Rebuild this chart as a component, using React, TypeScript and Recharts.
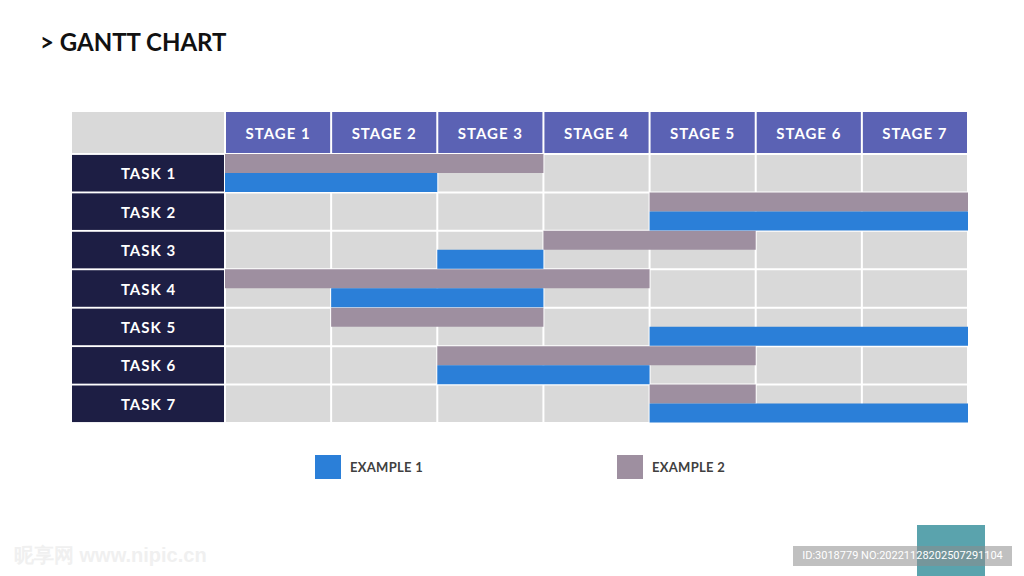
import React from 'react';
import { BarChart, Bar, XAxis, YAxis, CartesianGrid, Legend } from 'recharts';

const stages = ['STAGE 1', 'STAGE 2', 'STAGE 3', 'STAGE 4', 'STAGE 5', 'STAGE 6', 'STAGE 7'];
const tasks = ['TASK 1', 'TASK 2', 'TASK 3', 'TASK 4', 'TASK 5', 'TASK 6', 'TASK 7'];
// [start stage, end stage] per task
const example1 = [[0, 2], [4, 7], [2, 3], [1, 3], [4, 7], [2, 4], [4, 7]];
const example2 = [[0, 3], [4, 7], [3, 5], [0, 4], [1, 3], [2, 5], [4, 5]];
const stageTicks = [0.5, 1.5, 2.5, 3.5, 4.5, 5.5, 6.5];

const data = tasks.map((task, i) => ({ task, ex1: example1[i], ex2: example2[i] }));

const W = 1024;
const H = 576;
const LEGEND_H = 26;
const M = { top: 153, right: 56, bottom: 153 - LEGEND_H, left: 72 };
const LABEL_W = 153;
const PLOT_W = W - M.left - M.right - LABEL_W;
const PLOT_H = 423 - 153;
const COL_W = PLOT_W / stages.length;
const ROW_H = PLOT_H / tasks.length;
const HEAD_H = 42;

const BLUE = '#2b7fd8';
const MAUVE = '#9e8fa0';
const CELL = '#d9d9d9';
const FONT = 'Lato, "Open Sans", sans-serif';

const StageTick = (props: any) => {
  const { x, y, payload, index } = props;
  const label = stages[Math.floor(payload.value)];
  return (
    <g>
      {index === 0 && (
        <rect x={x - COL_W / 2 - LABEL_W} y={y - HEAD_H} width={LABEL_W - 1} height={HEAD_H - 1} fill={CELL} />
      )}
      <rect x={x - COL_W / 2 + 1} y={y - HEAD_H} width={COL_W - 2} height={HEAD_H - 1} fill="#5b62b4" />
      <text x={x} y={y - HEAD_H / 2} textAnchor="middle" dominantBaseline="central" fill="#fff"
        fontSize={15} fontWeight={700} letterSpacing={1} fontFamily={FONT}>
        {label}
      </text>
    </g>
  );
};

const TaskTick = (props: any) => {
  const { x, y, payload } = props;
  return (
    <g>
      <rect x={x - LABEL_W} y={y - ROW_H / 2 + 1} width={LABEL_W - 1} height={ROW_H - 2} fill="#1d1e44" />
      <text x={x - LABEL_W / 2} y={y} textAnchor="middle" dominantBaseline="central" fill="#fff"
        fontSize={15} fontWeight={700} letterSpacing={1} fontFamily={FONT}>
        {payload.value}
      </text>
    </g>
  );
};

const LegendBox = () => (
  <div style={{ position: 'relative', height: LEGEND_H, fontFamily: FONT, fontWeight: 700, fontSize: 13, color: '#404040' }}>
    {[{ c: BLUE, t: 'EXAMPLE 1', l: 315 }, { c: MAUVE, t: 'EXAMPLE 2', l: 617 }].map((it) => (
      <div key={it.t} style={{ position: 'absolute', left: it.l, top: 0, display: 'flex', alignItems: 'center' }}>
        <div style={{ width: 26, height: 24, background: it.c, marginRight: 9 }} />
        <span style={{ letterSpacing: 0.3 }}>{it.t}</span>
      </div>
    ))}
  </div>
);

const App: React.FC = () => {
  return (
    <div style={{ position: 'absolute', left: 0, top: 0, width: W, height: H, background: '#fff', overflow: 'hidden' }}>
      <div style={{ position: 'absolute', left: 40, top: 27, fontFamily: FONT, fontWeight: 700, fontSize: 24, color: '#111' }}>
        &gt; GANTT CHART
      </div>
      <BarChart width={W} height={H} data={data} layout="vertical" margin={M} barCategoryGap={0} barGap={0}>
        <CartesianGrid
          fill={CELL}
          stroke="#fff"
          strokeWidth={2}
          verticalCoordinatesGenerator={({ offset }: any) => stages.map((_, i) => offset.left + i * (offset.width / stages.length)).concat([offset.left + offset.width])}
          horizontalCoordinatesGenerator={({ offset }: any) => tasks.map((_, i) => offset.top + i * (offset.height / tasks.length)).concat([offset.top + offset.height])}
        />
        <XAxis type="number" orientation="top" domain={[0, 7]} ticks={stageTicks} height={1}
          axisLine={false} tickLine={false} tickSize={0} tickMargin={0} tick={<StageTick />} interval={0} />
        <YAxis type="category" dataKey="task" width={LABEL_W} axisLine={false} tickLine={false}
          tickSize={0} tickMargin={0} tick={<TaskTick />} interval={0} />
        <Legend content={<LegendBox />} wrapperStyle={{ position: 'absolute', top: 455, left: 0, width: W, height: LEGEND_H }} />
        <Bar dataKey="ex2" name="EXAMPLE 2" fill={MAUVE} isAnimationActive={false} />
        <Bar dataKey="ex1" name="EXAMPLE 1" fill={BLUE} isAnimationActive={false} />
      </BarChart>
      <div style={{ position: 'absolute', left: 14, top: 542, fontSize: 20, color: '#f0f0f0', fontFamily: 'sans-serif', fontWeight: 700 }}>
        昵享网 www.nipic.cn
      </div>
      <div style={{ position: 'absolute', left: 917, top: 525, width: 68, height: 51, background: '#5aa3ad' }} />
      <div style={{ position: 'absolute', left: 793, top: 546, width: 219, height: 20, background: 'rgba(140,140,140,0.55)',
        color: '#fff', fontSize: 11, lineHeight: '20px', textAlign: 'center', fontFamily: 'Roboto, sans-serif' }}>
        ID:3018779 NO:20221128202507291104
      </div>
    </div>
  );
};

export default App;
